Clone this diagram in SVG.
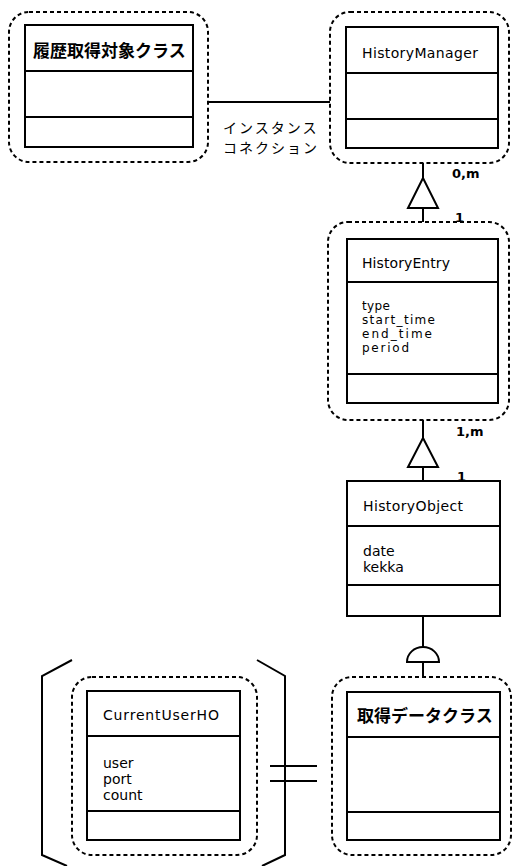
<svg xmlns="http://www.w3.org/2000/svg" width="513" height="866" viewBox="0 0 513 866">
<style>
.dash{fill:none;stroke:#000;stroke-width:2;stroke-dasharray:4 3}
.box{fill:#fff;stroke:#000;stroke-width:2}
.ln{fill:none;stroke:#000;stroke-width:2}
.t{font-family:"DejaVu Sans","Liberation Sans",sans-serif;font-size:14px;fill:#000}
.a{font-family:"DejaVu Sans","Liberation Sans",sans-serif;font-size:12px;fill:#000}
.j{font-family:"Noto Sans CJK JP",sans-serif;font-size:17px;font-weight:bold;fill:#000}
.jl{font-family:"Noto Sans CJK JP",sans-serif;font-size:14px;fill:#000;letter-spacing:2px}
.m{font-family:"DejaVu Sans","Liberation Sans",sans-serif;font-size:13px;font-weight:bold;fill:#000}
</style>
<rect width="513" height="866" fill="#fff"/>
<g id="connectors">
<line class="ln" x1="208" y1="102" x2="330" y2="102"/>
<text class="jl" x="223" y="133">インスタンス</text>
<text class="jl" x="223" y="153">コネクション</text>
<path class="ln" d="M423,163 V178 M423,208 V222"/>
<polygon class="ln" points="423,178 408,208 438,208"/>
<text class="m" x="452" y="178">0,m</text>
<text class="m" x="455" y="222">1</text>
<path class="ln" d="M423,420 V438 M423,467 V481"/>
<polygon class="ln" points="423,438 408,467 438,467"/>
<text class="m" x="456" y="436">1,m</text>
<text class="m" x="457" y="481">1</text>
<path class="ln" d="M423,616 V647 M423,662 V677"/>
<path class="ln" d="M407,662 A16,15 0 0 1 439,662 Z"/>
<polyline class="ln" points="72,660 42,676 42,855 67,866"/>
<polyline class="ln" points="257,660 285,676 285,855 262,866"/>
<path class="ln" d="M270,766 H317 M270,781 H317"/>
</g>
<g id="target-class">
<rect class="dash" x="9" y="12" width="199" height="150" rx="20"/>
<rect class="box" x="25" y="25" width="168" height="122"/>
<path class="ln" d="M25,71 H193 M25,117 H193"/>
<text class="j" x="33" y="57">履歴取得対象クラス</text>
</g>
<g id="history-manager">
<rect class="dash" x="330" y="12" width="179" height="151" rx="20"/>
<rect class="box" x="346" y="27" width="152" height="121"/>
<path class="ln" d="M346,73 H498 M346,119 H498"/>
<text class="t" x="362" y="58" textLength="116">HistoryManager</text>
</g>
<g id="history-entry">
<rect class="dash" x="328" y="222" width="181" height="198" rx="20"/>
<rect class="box" x="347" y="239" width="151" height="164"/>
<path class="ln" d="M347,282 H498 M347,374 H498"/>
<text class="t" x="362" y="268" textLength="88">HistoryEntry</text>
<text class="a" x="362" y="310" textLength="28">type</text>
<text class="a" x="362" y="324" textLength="73">start_time</text>
<text class="a" x="362" y="338" textLength="70">end_time</text>
<text class="a" x="362" y="352" textLength="47">period</text>
</g>
<g id="history-object">
<rect class="box" x="347" y="481" width="153" height="135"/>
<path class="ln" d="M347,526 H500 M347,585 H500"/>
<text class="t" x="363" y="511" textLength="100">HistoryObject</text>
<text class="t" x="363" y="556">date</text>
<text class="t" x="363" y="572">kekka</text>
</g>
<g id="data-class">
<rect class="dash" x="332" y="677" width="179" height="178" rx="20"/>
<rect class="box" x="347" y="692" width="153" height="148"/>
<path class="ln" d="M347,737 H500 M347,812 H500"/>
<text class="j" x="357" y="722">取得データクラス</text>
</g>
<g id="current-user-ho">
<rect class="dash" x="72" y="677" width="185" height="178" rx="20"/>
<rect class="box" x="87" y="691" width="153" height="149"/>
<path class="ln" d="M87,736 H240 M87,811 H240"/>
<text class="t" x="103" y="720" textLength="116">CurrentUserHO</text>
<text class="t" x="103" y="768">user</text>
<text class="t" x="103" y="784">port</text>
<text class="t" x="103" y="800">count</text>
</g>
</svg>
